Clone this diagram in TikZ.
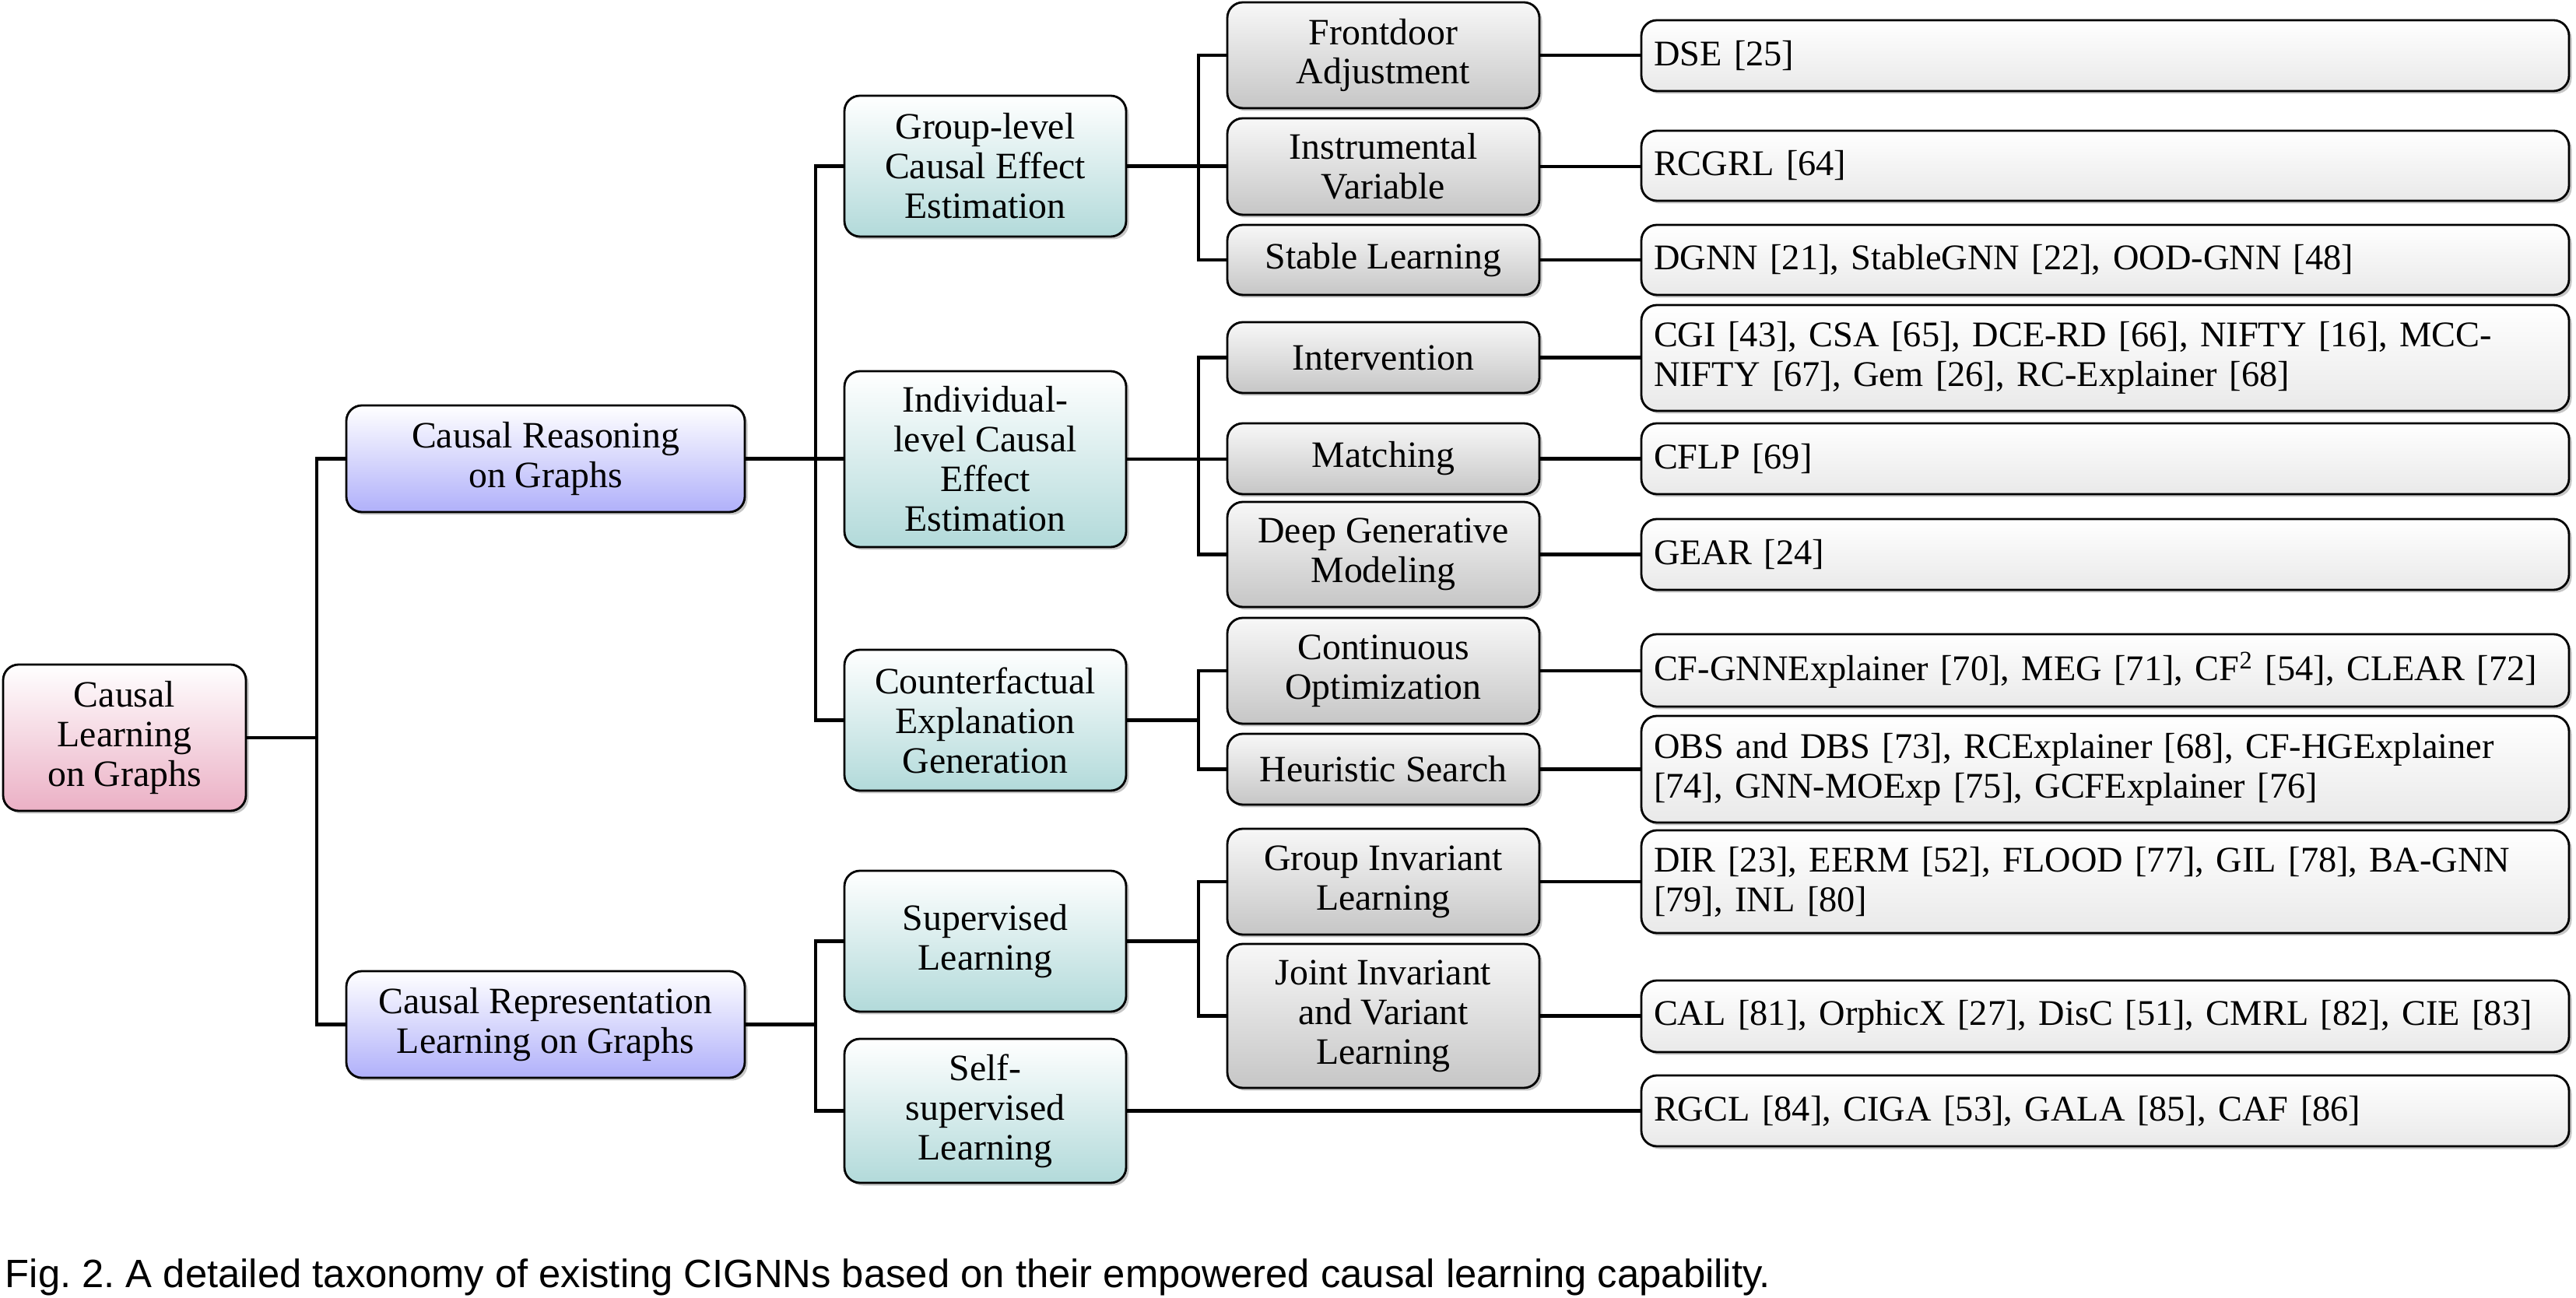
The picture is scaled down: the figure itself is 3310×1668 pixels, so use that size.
\documentclass[tikz,border=0pt]{standalone}
\usepackage{fontspec}
\setmainfont{Liberation Serif}
\newfontfamily\capfont{Liberation Sans}
\usetikzlibrary{shadows}

\definecolor{rootpink}{RGB}{235,176,197}
\definecolor{catblue}{RGB}{176,176,250}
\definecolor{subteal}{RGB}{178,218,218}
\definecolor{methgray}{RGB}{198,198,198}
\definecolor{leafgray}{RGB}{233,233,233}

\tikzset{
  box/.style={draw=black, line width=0.8pt, rounded corners=2mm, align=center,
    inner sep=1mm, font=\fontsize{13.6}{14.5}\selectfont,
    drop shadow={shadow xshift=0.35mm, shadow yshift=-0.35mm, opacity=0.45}},
  rootbox/.style={box, top color=white, bottom color=rootpink,
    minimum width=31.2mm, minimum height=18.8mm},
  catbox/.style={box, top color=white, bottom color=catblue,
    minimum width=51.2mm, minimum height=13.7mm},
  subbox/.style={box, top color=white, bottom color=subteal,
    minimum width=36.2mm, minimum height=18.1mm},
  methbox/.style={box, top color=white!97!black, bottom color=methgray,
    minimum width=40.1mm, minimum height=9.1mm},
  leafbox/.style={box, top color=white, bottom color=leafgray,
    font=\fontsize{13.2}{14.5}\selectfont,
    text width=116mm, inner xsep=1.6mm, align=left, minimum height=9.1mm},
  conn/.style={line width=1.4pt},
}

\begin{document}
\begin{tikzpicture}[x=0.1mm,y=-0.1mm]
  \useasboundingbox (0,0) rectangle (3310,1668);

  % branch columns
  \coordinate (b0) at (407,0);
  \coordinate (b1) at (1048,0);
  \coordinate (b2) at (1540,0);

  % root and first level
  \node[rootbox] (root) at (160,948) {Causal\\Learning\\on Graphs};
  \node[catbox] (cr)  at (701,589.5)  {Causal Reasoning\\on Graphs};
  \node[catbox] (crl) at (701,1316.5) {Causal Representation\\Learning on Graphs};

  % second level
  \node[subbox] (group)   at (1266,213.5) {Group-level\\Causal Effect\\Estimation};
  \node[subbox, minimum height=22.6mm] (indiv) at (1266,590)
        {Individual-\\level Causal\\Effect\\Estimation};
  \node[subbox] (counter) at (1266,925.5) {Counterfactual\\Explanation\\Generation};
  \node[subbox] (super)   at (1266,1209.5) {Supervised\\Learning};
  \node[subbox, minimum height=18.5mm] (self) at (1266,1427.5)
        {Self-\\supervised\\Learning};

  % third level
  \node[methbox, minimum height=13.6mm] (front)  at (1777.5,71)   {Frontdoor\\Adjustment};
  \node[methbox, minimum height=12.4mm] (instr)  at (1777.5,214)  {Instrumental\\Variable};
  \node[methbox, minimum height=9.0mm]  (stable) at (1777.5,334)  {Stable Learning};
  \node[methbox] (interv) at (1777.5,459.5) {Intervention};
  \node[methbox] (match)  at (1777.5,589.5) {Matching};
  \node[methbox, minimum height=13.5mm] (deep)   at (1777.5,712.5) {Deep Generative\\Modeling};
  \node[methbox, minimum height=13.6mm] (cont)   at (1777.5,862)   {Continuous\\Optimization};
  \node[methbox] (heur)   at (1777.5,988.5) {Heuristic Search};
  \node[methbox, minimum height=13.6mm] (ginv)   at (1777.5,1133)  {Group Invariant\\Learning};
  \node[methbox, minimum height=18.5mm] (joint)  at (1777.5,1305.5)
        {Joint Invariant\\and Variant\\Learning};

  % methods
  \node[leafbox] (dse)   at (2705,71.5)   {DSE [25]};
  \node[leafbox, minimum height=9.0mm] (rcgrl) at (2705,213) {RCGRL [64]};
  \node[leafbox, minimum height=9.0mm] (dgnn)  at (2705,334)
        {DGNN [21], StableGNN [22], OOD-GNN [48]};
  \node[leafbox, minimum height=13.6mm] (cgi) at (2705,460)
        {CGI [43], CSA [65], DCE-RD [66], NIFTY [16], MCC-\\NIFTY [67], Gem [26], RC-Explainer [68]};
  \node[leafbox] (cflp)  at (2705,589.5)  {CFLP [69]};
  \node[leafbox] (gear)  at (2705,712.5)  {GEAR [24]};
  \node[leafbox, minimum height=9.3mm] (cfgnn) at (2705,861.5)
        {CF-GNNExplainer [70], MEG [71], CF\textsuperscript{2} [54], CLEAR [72]};
  \node[leafbox, minimum height=13.7mm] (obs) at (2705,988.5)
        {OBS and DBS [73], RCExplainer [68], CF-HGExplainer\\{}[74], GNN-MOExp [75], GCFExplainer [76]};
  \node[leafbox, minimum height=13.2mm] (dir) at (2705,1133)
        {DIR [23], EERM [52], FLOOD [77], GIL [78], BA-GNN\\{}[79], INL [80]};
  \node[leafbox, minimum height=9.2mm] (cal) at (2705,1306)
        {CAL [81], OrphicX [27], DisC [51], CMRL [82], CIE [83]};
  \node[leafbox] (rgcl)  at (2705,1427.5)
        {RGCL [84], CIGA [53], GALA [85], CAF [86]};

  % tree lines
  \draw[conn] (root.east) -- (root.east -| b0);
  \draw[conn] (cr.west) -- (cr.west -| b0) |- (crl.west);

  \draw[conn] (cr.east) -- (cr.east -| indiv.west);
  \draw[conn] (group.west) -- (group.west -| b1) |- (counter.west);
  \draw[conn] (crl.east) -- (crl.east -| b1);
  \draw[conn] (super.west) -- (super.west -| b1) |- (self.west);

  \draw[conn] (group.east) -- (group.east -| instr.west);
  \draw[conn] (front.west) -- (front.west -| b2) |- (stable.west);
  \draw[conn] (indiv.east) -- (indiv.east -| match.west);
  \draw[conn] (interv.west) -- (interv.west -| b2) |- (deep.west);
  \draw[conn] (counter.east) -- (counter.east -| b2);
  \draw[conn] (cont.west) -- (cont.west -| b2) |- (heur.west);
  \draw[conn] (super.east) -- (super.east -| b2);
  \draw[conn] (ginv.west) -- (ginv.west -| b2) |- (joint.west);
  \draw[conn] (self.east) -- (self.east -| rgcl.west);

  \draw[conn] (front.east)  -- (front.east -| dse.west);
  \draw[conn] (instr.east)  -- (instr.east -| rcgrl.west);
  \draw[conn] (stable.east) -- (stable.east -| dgnn.west);
  \draw[conn] (interv.east) -- (interv.east -| cgi.west);
  \draw[conn] (match.east)  -- (match.east -| cflp.west);
  \draw[conn] (deep.east)   -- (deep.east -| gear.west);
  \draw[conn] (cont.east)   -- (cont.east -| cfgnn.west);
  \draw[conn] (heur.east)   -- (heur.east -| obs.west);
  \draw[conn] (ginv.east)   -- (ginv.east -| dir.west);
  \draw[conn] (joint.east)  -- (joint.east -| cal.west);

  % caption
  \node[anchor=base west, inner sep=0,
        font=\capfont\fontsize{14.45}{17}\selectfont\frenchspacing]
        (caption) at (6,1654)
        {Fig. 2. A detailed taxonomy of existing CIGNNs based on their empowered causal learning capability.};
\end{tikzpicture}
\end{document}
